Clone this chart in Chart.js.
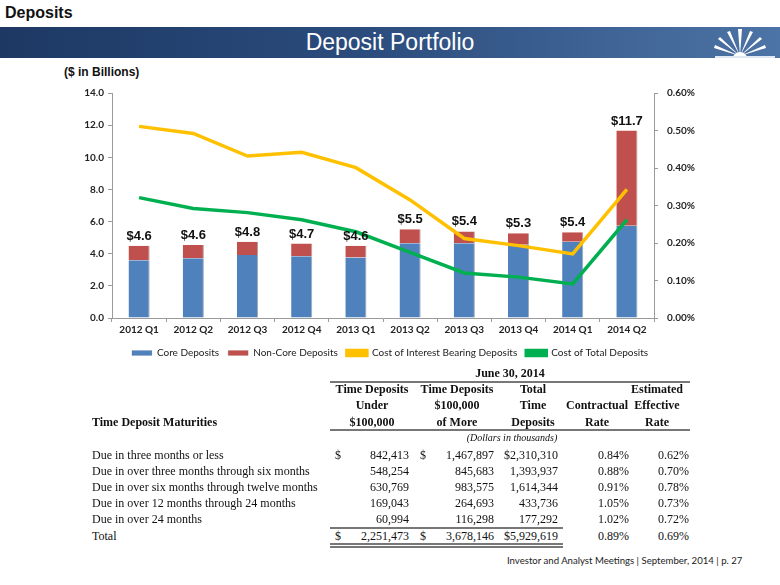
<!DOCTYPE html>
<html>
<head>
<meta charset="utf-8">
<script src="https://cdn.jsdelivr.net/npm/chart.js@4/dist/chart.umd.min.js"></script>
<style>
  body { margin:0; width:780px; height:585px; background:#fff; position:relative; overflow:hidden; font-family:Arial, "Liberation Sans", sans-serif; }
  #title { position:absolute; left:5px; top:4px; font-weight:bold; font-size:16px; color:#111; }
  #banner { position:absolute; left:0; top:27px; width:780px; height:31px; background:linear-gradient(to right,#1d3863 0%,#2a4b7c 45%,#4d74a6 100%); }
  #banner span { position:absolute; left:0; width:780px; top:2px; text-align:center; color:#fff; font-size:23px; }
  #unit { position:absolute; left:64px; top:65px; font-weight:bold; font-size:12px; color:#111; }
  #wrap { position:absolute; left:0; top:78px; width:780px; height:290px; }
  .t { position:absolute; font-family:"Liberation Serif","Times New Roman",serif; font-size:12px; color:#111; white-space:nowrap; line-height:14px; }
  .b { font-weight:bold; }
  .hl { position:absolute; background:#777; height:1.5px; }
  #foot { position:absolute; left:507px; top:555px; font-family:Lato, sans-serif; font-size:9.6px; color:#222; }
</style>
</head>
<body>
<div id="title">Deposits</div>
<div id="banner"><span>Deposit Portfolio</span>
<svg style="position:absolute;left:700px;top:0" width="80" height="31" viewBox="0 0 80 31">
  <g fill="#fff">
    <polygon points="40,29 38,2 42,2"/>
    <polygon points="40,29 27,5 30,4"/>
    <polygon points="40,29 50,4 53,5"/>
    <polygon points="40,29 18,12 20,10"/>
    <polygon points="40,29 60,10 62,12"/>
    <polygon points="40,29 14,21 15,18"/>
    <polygon points="40,29 65,18 66,21"/>
    <path d="M33,31 A7,6 0 0 1 47,31 Z"/>
  </g>
  <rect x="15" y="29" width="60" height="2" fill="#dfe8f3"/>
</svg>
</div>
<div id="unit">($ in Billions)</div>
<div id="wrap"><canvas id="c" width="780" height="290"></canvas></div>
<div id="tbl"></div>
<div id="foot">Investor and Analyst Meetings | September, 2014 | p. 27</div>
<script>
let quarters=['2012 Q1','2012 Q2','2012 Q3','2012 Q4','2013 Q1','2013 Q2','2013 Q3','2013 Q4','2014 Q1','2014 Q2']
let coreDeposits=[3.6,3.72,3.92,3.84,3.76,4.65,4.65,4.56,4.75,5.74]
let nonCoreDeposits=[0.9,0.82,0.83,0.79,0.74,0.88,0.74,0.71,0.58,5.93]
let totalLabels=['$4.6','$4.6','$4.8','$4.7','$4.6','$5.5','$5.4','$5.3','$5.4','$11.7']
let costInterestBearing=[0.511,0.492,0.432,0.442,0.401,0.315,0.212,0.193,0.171,0.343]
let costTotal=[0.321,0.292,0.281,0.262,0.230,0.175,0.120,0.109,0.091,0.262]

let rowLabels=['Due in three months or less','Due in over three months through six months','Due in over six months through twelve months','Due in over 12 months through 24 months','Due in over 24 months','Total']
let under100k=['842,413','548,254','630,769','169,043','60,994','2,251,473']
let over100k=['1,467,897','845,683','983,575','264,693','116,298','3,678,146']
let totalTime=['$2,310,310','1,393,937','1,614,344','433,736','177,292','$5,929,619']
let contractRate=['0.84%','0.88%','0.91%','1.05%','1.02%','0.89%']
let effectRate=['0.62%','0.70%','0.78%','0.73%','0.72%','0.69%']

// labels above the stacked bars
let totalsPlugin={
    id:'totals',
    afterDatasetsDraw:function(chart){
        let ctx=chart.ctx
        let m0=chart.getDatasetMeta(0)
        let m1=chart.getDatasetMeta(1)
        ctx.save()
        ctx.font='bold 13px Arial, "Liberation Sans"'
        ctx.fillStyle='#111'
        ctx.textAlign='center'
        ctx.textBaseline='bottom'
        for(let i=0;i<totalLabels.length;i++){
            let x=m0.data[i].x
            let top=m1.data[i].y
            ctx.fillText(totalLabels[i],x,top-3)
        }
        ctx.restore()
    }
}

let tickFont={family:'Lato',size:10,weight:'bold'}
let axisGrey='#9a9a9a'

let data_1={
    labels:quarters,
    datasets:[
        {label:'Core Deposits',type:'bar',data:coreDeposits,backgroundColor:'#4f81bd',borderColor:'rgba(40,60,90,0.45)',borderWidth:{right:1},yAxisID:'y',stack:'s',order:1,categoryPercentage:1,barPercentage:0.39},
        {label:'Non-Core Deposits',type:'bar',data:nonCoreDeposits,backgroundColor:'#c0504d',borderColor:'rgba(90,30,30,0.45)',borderWidth:{right:1},yAxisID:'y',stack:'s',order:1,categoryPercentage:1,barPercentage:0.39},
        {label:'Cost of Interest Bearing Deposits',type:'line',data:costInterestBearing,borderColor:'#ffc000',backgroundColor:'#ffc000',borderWidth:3.5,pointRadius:0,tension:0,yAxisID:'y1',order:0},
        {label:'Cost of Total Deposits',type:'line',data:costTotal,borderColor:'#00b050',backgroundColor:'#00b050',borderWidth:3.5,pointRadius:0,tension:0,yAxisID:'y1',order:0}
    ]
}

let options={
    responsive:false,
    animation:false,
    layout:{padding:{top:5,bottom:0,left:0,right:0}},
    plugins:{
        tooltip:{enabled:false},
        legend:{
            display:true,
            position:'bottom',
            labels:{
                font:{family:'Lato',size:10},
                color:'#222',
                boxWidth:20,
                boxHeight:5,
                padding:9,
                sort:function(a,b){return a.datasetIndex-b.datasetIndex}
            }
        }
    },
    scales:{
        x:{
            stacked:true,
            grid:{display:true,drawOnChartArea:false,drawTicks:true,tickLength:4,color:axisGrey,offset:true},
            border:{color:axisGrey},
            ticks:{font:tickFont,color:'#222',padding:2,maxRotation:0},
            afterFit:function(s){s.height=21}
        },
        y:{
            stacked:true,
            min:0,max:14,
            position:'left',
            grid:{display:true,drawOnChartArea:false,drawTicks:true,tickLength:4,color:axisGrey},
            border:{color:axisGrey},
            ticks:{stepSize:2,font:tickFont,color:'#222',padding:4,callback:function(v){return v.toFixed(1)}},
            afterFit:function(s){s.width=112}
        },
        y1:{
            min:0,max:0.6,
            position:'right',
            grid:{display:true,drawOnChartArea:false,drawTicks:true,tickLength:4,color:axisGrey},
            border:{color:axisGrey},
            ticks:{stepSize:0.1,font:tickFont,color:'#222',padding:9,callback:function(v){return v.toFixed(2)+'%'}},
            afterFit:function(s){s.width=126}
        }
    }
}

let chartCanvas=document.getElementById('c').getContext('2d')
let chart=new Chart(chartCanvas,{data:data_1,options:options,plugins:[totalsPlugin]})

// table below the chart
let tbl=document.getElementById('tbl')
function txt(s,x,y,align,cls){
    let d=document.createElement('div')
    d.className='t '+(cls||'')
    d.textContent=s
    d.style.top=(y-7)+'px'
    if(align==='r'){d.style.right=(780-x)+'px'}
    else if(align==='c'){d.style.left=(x-100)+'px';d.style.width='200px';d.style.textAlign='center'}
    else {d.style.left=x+'px'}
    tbl.appendChild(d)
}
function hline(x1,x2,y){
    let d=document.createElement('div')
    d.className='hl'
    d.style.left=x1+'px';d.style.width=(x2-x1)+'px';d.style.top=y+'px'
    tbl.appendChild(d)
}
txt('June 30, 2014',510,373,'c','b')
hline(330,690,381)
txt('Time Deposits',372,389,'c','b');txt('Under',372,405,'c','b');txt('$100,000',372,422,'c','b')
txt('Time Deposits',457,389,'c','b');txt('$100,000',457,405,'c','b');txt('of More',457,422,'c','b')
txt('Total',533,389,'c','b');txt('Time',533,405,'c','b');txt('Deposits',533,422,'c','b')
txt('Contractual',597,405,'c','b');txt('Rate',597,422,'c','b')
txt('Estimated',657,389,'c','b');txt('Effective',657,405,'c','b');txt('Rate',657,422,'c','b')
txt('Time Deposit Maturities',92,422,'l','b')
hline(330,690,429)
let dl=document.createElement('div')
dl.className='t';dl.style.left='412px';dl.style.width='200px';dl.style.textAlign='center';dl.style.top='431px'
dl.style.fontStyle='italic';dl.style.fontSize='10px';dl.textContent='(Dollars in thousands)'
tbl.appendChild(dl)
let rowY=[455,471,487,503,519,536]
for(let i=0;i<rowLabels.length;i++){
    let y=rowY[i]
    txt(rowLabels[i],92,y,'l')
    if(i===0||i===5){txt('$',335,y,'l');txt('$',420,y,'l')}
    txt(under100k[i],409,y,'r')
    txt(over100k[i],494,y,'r')
    txt(totalTime[i],558,y,'r')
    txt(contractRate[i],629,y,'r')
    txt(effectRate[i],689,y,'r')
}
hline(330,563,527)
hline(330,563,543)
hline(330,563,546)
</script>
</body>
</html>
